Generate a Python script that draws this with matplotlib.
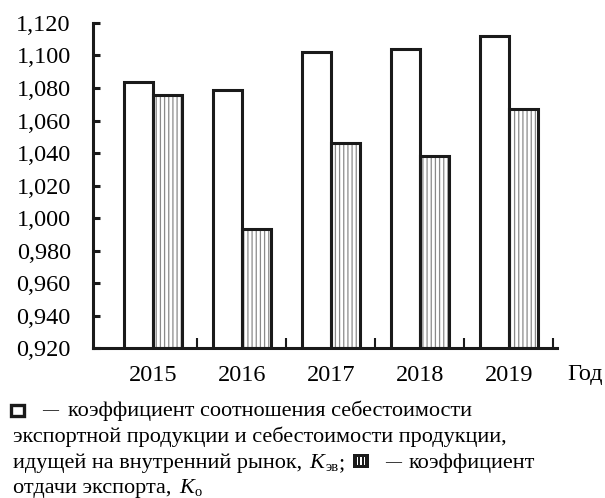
import matplotlib
matplotlib.use("Agg")
import matplotlib.pyplot as plt
import numpy as np
from matplotlib.patches import Rectangle

years = ["2015", "2016", "2017", "2018", "2019"]
k_ev = [1.084, 1.079, 1.102, 1.104, 1.112]   # white bars
k_o = [1.076, 0.993, 1.046, 1.038, 1.067]    # hatched bars
y_ticks = [0.920, 0.940, 0.960, 0.980, 1.000, 1.020, 1.040, 1.060, 1.080, 1.100, 1.120]

W, H = 605, 498
plt.rcParams["font.family"] = "Liberation Serif"
plt.rcParams["hatch.linewidth"] = 0.9
INK = "#1a1a1a"

fig = plt.figure(figsize=(W / 100, H / 100), dpi=100)
ax = fig.add_axes([93 / W, 1 - 348 / H, (557 - 93) / W, (348 - 23) / H])

x = np.arange(len(years))
bw = 0.326
ax.bar(x, [v - 0.92 for v in k_ev], bw, bottom=0.92, align="edge",
       facecolor="white", edgecolor=INK, linewidth=2.2, zorder=3)
# hatched fill first, black outline on top
ax.bar(x + bw, [v - 0.92 for v in k_o], bw, bottom=0.92, align="edge",
       facecolor="white", edgecolor="#8a8a8a", hatch="||||", linewidth=0, zorder=2)
ax.bar(x + bw, [v - 0.92 for v in k_o], bw, bottom=0.92, align="edge",
       facecolor="none", edgecolor=INK, linewidth=2.2, zorder=3)

ax.set_xlim(-0.674 + bw, 4.54 + bw)
ax.set_ylim(0.920, 1.120)
ax.set_yticks(y_ticks)
ax.set_yticklabels([f"{v:.3f}".replace(".", ",") for v in y_ticks])
ax.set_xticks(x + bw)
ax.set_xticklabels(years)
ax.set_xticks(x + bw + 0.5, minor=True)

for s in ["top", "right"]:
    ax.spines[s].set_visible(False)
for s in ["left", "bottom"]:
    ax.spines[s].set_linewidth(2.2)
    ax.spines[s].set_color(INK)
ax.tick_params(axis="y", direction="in", length=5, width=2.2, pad=16,
               labelsize=17.5, color=INK)
ax.tick_params(axis="x", which="major", length=0, pad=12, labelsize=17.5)
ax.tick_params(axis="x", which="minor", direction="in", length=7, width=1.5,
               color=INK)
fig.text(585 / W, 1 - 374 / H, "Год", fontsize=17.5, ha="center", va="center")

# legend below the chart, written as running text with inline squares
fig.canvas.draw()
renderer = fig.canvas.get_renderer()
LS = 16.0
SUB = 10.5
DASH = 11.5


def put_box(x_px, y_top, hatched):
    w, h = 16, 14
    if hatched:
        fig.add_artist(Rectangle((x_px / W, 1 - (y_top + h) / H), w / W, h / H,
                                 transform=fig.transFigure, facecolor=INK,
                                 edgecolor=INK, linewidth=0))
        for k in range(3):
            fig.add_artist(Rectangle(((x_px + 3.5 + k * 3.6) / W, 1 - (y_top + h - 3) / H),
                                     1.5 / W, (h - 6) / H, transform=fig.transFigure,
                                     facecolor="white", linewidth=0))
    else:
        fig.add_artist(Rectangle(((x_px + 1.5) / W, 1 - (y_top + h - 1.5) / H),
                                 (w - 3) / W, (h - 3) / H, transform=fig.transFigure,
                                 facecolor="white", edgecolor=INK, linewidth=2.4))
    return x_px + w


def put_text(x_px, y_base, txt, size=LS, style="normal", dy=0):
    t = fig.text(x_px / W, 1 - (y_base + dy) / H, txt, fontsize=size,
                 style=style, ha="left", va="baseline")
    return x_px + t.get_window_extent(renderer).width


# line 1
put_box(9, 403, False)
put_text(42, 416, "—", size=DASH, dy=-1.5)
put_text(68, 416, "коэффициент соотношения себестоимости")
# line 2
put_text(13, 442, "экспортной продукции и себестоимости продукции,")
# line 3
xp = put_text(13, 468, "идущей на внутренний рынок, ")
xp = put_text(xp + 2, 468, "K", style="italic")
xp = put_text(xp + 1, 468, "эв", size=SUB, dy=3)
xp = put_text(xp, 468, ";")
xp = put_box(xp + 8, 454, True)
xp = put_text(xp + 16, 468, "—", size=DASH, dy=-1.5)
put_text(xp + 8, 468, "коэффициент")
# line 4
xp = put_text(13, 493, "отдачи экспорта, ")
xp = put_text(xp + 2, 493, "K", style="italic")
put_text(xp + 1, 493, "о", size=SUB, dy=3)

fig.savefig("out.png", dpi=100)
